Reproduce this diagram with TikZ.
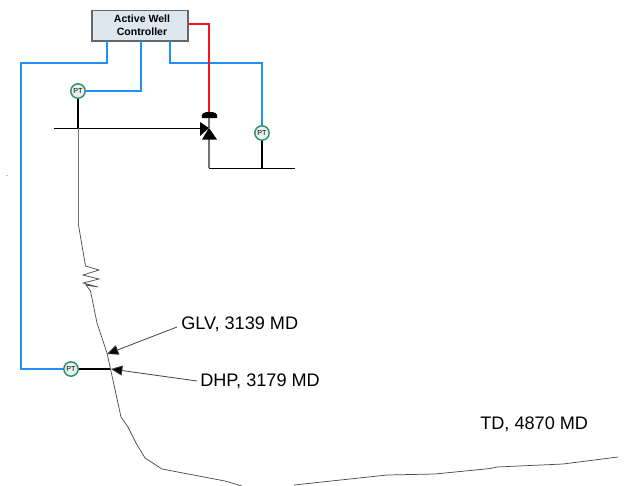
\documentclass[tikz,border=0pt]{standalone}
\usepackage{fontspec}
\setmainfont{Liberation Sans}
\usepackage{tikz}
\usetikzlibrary{arrows.meta,calc,positioning}
\definecolor{sigblue}{HTML}{1E8FFF}
\definecolor{ctrlred}{HTML}{FF1020}
\definecolor{boxfill}{HTML}{DCE7EF}
\definecolor{ptgreen}{HTML}{2F8F70}
\definecolor{ptfill}{HTML}{E6F2EC}
\tikzset{
  ctrlbox/.style={draw=black!60, line width=0.8pt, fill=boxfill, minimum width=72pt, minimum height=23.2pt, inner sep=0pt, align=center, font=\bfseries\fontsize{7.9}{9.6}\selectfont},
  ptnode/.style={circle, draw=ptgreen, line width=1.1pt, fill=ptfill, minimum size=10.8pt, inner sep=0pt, font=\fontsize{5.4}{5.4}\selectfont},
  siglink/.style={draw=sigblue, line width=1.15pt},
  redlink/.style={draw=ctrlred, line width=1.1pt},
  stem/.style={black, line width=1.1pt},
  flow/.style={black, line width=0.65pt},
  pipe/.style={black!55, line width=0.8pt},
  well/.style={black!70, line width=0.55pt},
  callout/.style={black!75, line width=0.6pt, -{Triangle[length=8.5pt,width=7.5pt,fill=black]}},
  depthlabel/.style={inner sep=0pt, font=\fontsize{13.6}{15}\selectfont}
}
\begin{document}
\begin{tikzpicture}[x=0.75pt, y=-0.75pt]
  \useasboundingbox (0,0) rectangle (629,486);
  % controller and transmitters
  \node[ctrlbox] (awc) at (140,25.5) {\hspace*{3pt}Active Well\\\hspace*{3pt}Controller};
  \node[ptnode] (ptTop) at (78,91) {PT};
  \node[ptnode] (ptOut) at (262,133) {PT};
  \node[ptnode] (ptDown) at (71,369) {PT};
  % junctions on the flow lines
  \coordinate (valve) at (209,128);
  \coordinate (inj) at (54,128);
  \coordinate (injTee) at (78,128);
  \coordinate (valveIn) at (200,128);
  \coordinate (valveTop) at (209,113);
  \coordinate (valveLow) at (209,139);
  \coordinate (outCorner) at (209,168);
  \coordinate (outTee) at (262,168);
  \coordinate (outEnd) at (295,168);
  \coordinate (dhpTee) at (110,369);
  \coordinate (glvTip) at (107,354);
  \coordinate (dhpTip) at (111,369);
  % signal lines
  \draw[siglink] (107,41) -- (107,63) -- (21,63) -- (21,369) -- (ptDown);
  \draw[siglink] (141,41) -- (141,91) -- (ptTop);
  \draw[siglink] (170,41) -- (170,63) -- (262,63) -- (ptOut);
  \draw[redlink] (188,24) -- (209,24) -- (valveTop);
  % surface piping
  \draw[stem] (ptTop) -- (injTee);
  \draw[stem] (ptOut) -- (outTee);
  \draw[stem] (ptDown) -- (dhpTee);
  \draw[flow] (inj) -- (valveIn);
  \draw[pipe] (valveTop) -- (valve);
  \draw[pipe] (valveLow) -- (outCorner);
  \draw[flow] (outCorner) -- (outEnd);
  % valve with actuator
  \fill (202,118) .. controls (201,113) and (204,112) .. (209.5,112)
    .. controls (215,112) and (218,113) .. (217,118) -- cycle;
  \fill (200,122) -- (valve) -- (200,136) -- cycle;
  \fill (valve) -- (217,139.5) -- (202,139.5) -- cycle;
  % well path
  \draw[pipe] (78.5,128) -- (78.5,225);
  \draw[well] (78.5,225) -- (85.5,266) -- (99,270) -- (83,275) -- (99,279) -- (83,283)
    -- (98,287) -- (86,285) -- (90.5,291) -- (97,323) -- (107,353) -- (121,417)
    -- (128,427) -- (136,443) -- (145,458) -- (162,469) -- (225,481) -- (242,486);
  \draw[well] (294,485) -- (387,475) -- (435,474) -- (490,468.5) -- (497,467)
    -- (563,464) -- (618,457);
  % depth labels
  \node[depthlabel, anchor=west] (glv) at (181,324) {GLV, 3139 MD};
  \node[depthlabel, anchor=west] (dhp) at (200,381) {DHP, 3179 MD};
  \node[depthlabel, anchor=west] (td) at (480,424) {TD, 4870 MD};
  \draw[callout] (glv.west) ++(-4,3) coordinate (glvFrom) -- (glvTip);
  \draw[callout] (dhp.west) ++(-3,0) coordinate (dhpFrom) -- (dhpTip);
  % stray dot
  \fill[black!70] (7,175.5) circle (0.5);
\end{tikzpicture}
\end{document}
